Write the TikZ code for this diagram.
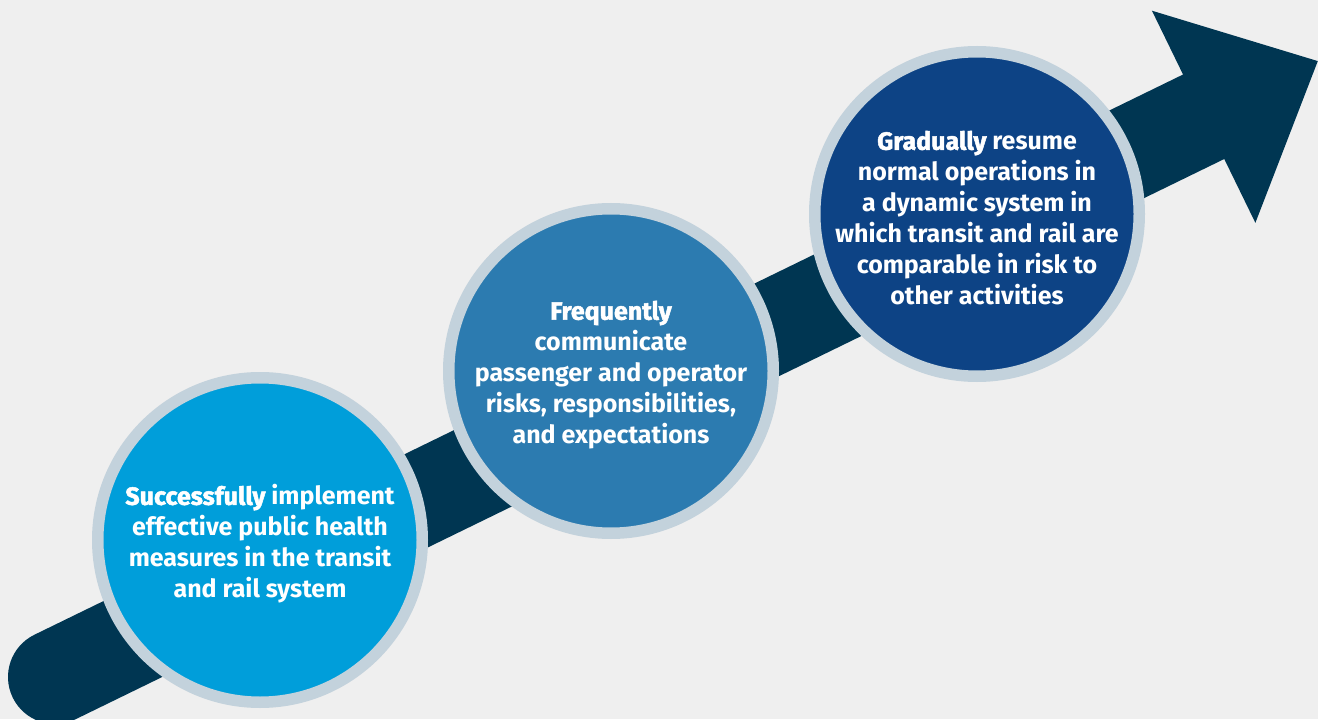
\documentclass[tikz,border=0pt]{standalone}
\usepackage{fontspec}
\setmainfont{Fira Sans}
\newfontfamily\heavyface{Fira Sans}[BoldFeatures={FakeBold=2}]
\usetikzlibrary{positioning}
\definecolor{BG}{RGB}{239,239,239}
\definecolor{N1}{RGB}{0,54,82}
\definecolor{R1}{RGB}{195,210,220}
\definecolor{B1}{RGB}{0,158,218}
\definecolor{B2}{RGB}{44,123,176}
\definecolor{B3}{RGB}{13,67,133}
\newcommand{\stepword}[1]{{\heavyface\bfseries #1}}
\tikzset{disc/.style={circle, draw=R1, line width=5.75pt, minimum size=162.25pt, inner sep=0pt},
         steptext/.style={text=white, align=center, font=\fontsize{12.5}{15.5}\selectfont\bfseries}}

\begin{document}
\begin{tikzpicture}[x=0.5pt, y=0.5pt]
      \fill[BG] (0,0) rectangle (1318,719);
      \useasboundingbox (0,0) rectangle (1318,719);
      % arrow
      \begin{scope}[shift={(55,42)}, rotate=26]
        \fill[N1] (0,-47) -- (1278,-47) -- (1278,-118) -- (1405,0) -- (1278,118) -- (1278,47) -- (0,47) arc (90:270:47) -- cycle;
      \end{scope}
      % steps
      \node[disc, fill=B1] (d1) at (260,179) {};
      \node[disc, fill=B2] (d2) at (611,348) {};
      \node[disc, fill=B3] (d3) at (977,505) {};
      \node[steptext, anchor=center] (t1) at ([yshift=-2pt]d1.center) {\stepword{Successfully} implement\\effective public health\\measures in the transit\\and rail system};
      \node[steptext, anchor=center] (t2) at ([yshift=-2pt]d2.center) {\stepword{Frequently}\\communicate\\passenger and operator\\risks, responsibilities,\\and expectations};
      \node[steptext, anchor=center] (t3) at ([yshift=-2pt]d3.center) {\stepword{Gradually} resume\\normal operations in\\a dynamic system in\\which transit and rail are\\comparable in risk to\\other activities};
    \end{tikzpicture}
\end{document}
